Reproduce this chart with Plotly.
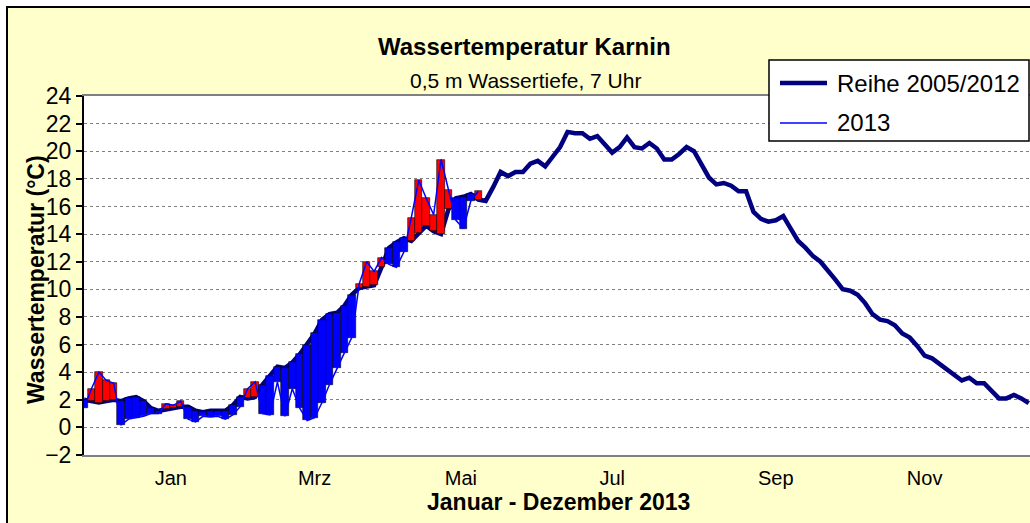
import plotly.graph_objects as go

# Tage ab linkem Diagrammrand, 3-Tage-Raster
tage = list(range(0, 382, 3))

# Mittelwert Reihe 2005/2012 (°C)
reihe_2005_2012 = [
    2.0, 1.9, 1.8, 1.9, 2.0, 1.9, 2.1, 2.2, 1.9, 1.4,
    1.2, 1.3, 1.4, 1.5, 1.5, 1.2, 1.1, 1.2, 1.2, 1.2,
    1.6, 2.2, 2.1, 2.2, 3.1, 3.7, 4.4, 4.3, 4.7, 5.3,
    6.0, 6.8, 7.8, 8.2, 8.3, 8.8, 9.6, 10.1, 10.2, 10.3,
    11.6, 13.0, 13.4, 13.7, 13.5, 14.1, 14.6, 14.2, 14.0, 15.8,
    16.6, 16.7, 16.9, 16.5, 16.4, 17.4, 18.5, 18.2, 18.5, 18.5,
    19.1, 19.3, 18.9, 19.6, 20.3, 21.4, 21.3, 21.3, 20.9, 21.1,
    20.5, 19.9, 20.3, 21.0, 20.3, 20.2, 20.6, 20.2, 19.4, 19.4,
    19.8, 20.3, 20.0, 19.1, 18.1, 17.6, 17.7, 17.5, 17.1, 17.1,
    15.6, 15.1, 14.9, 15.0, 15.3, 14.4, 13.5, 13.0, 12.4, 12.0,
    11.4, 10.7, 10.0, 9.9, 9.6, 9.0, 8.2, 7.8, 7.7, 7.4,
    6.8, 6.5, 5.9, 5.2, 5.0, 4.6, 4.2, 3.75, 3.4, 3.6,
    3.2, 3.2, 2.7, 2.1, 2.1, 2.35, 2.1, 1.75,
]

# Messwerte 2013 (°C)
werte_2013 = [
    1.4, 2.8, 4.0, 3.4, 3.2, 0.2, 0.6, 0.7, 0.8, 1.0,
    1.0, 1.7, 1.6, 1.9, 0.6, 0.4, 0.8, 0.75, 0.8, 0.6,
    0.9, 1.5, 2.8, 3.3, 1.0, 0.9, 3.3, 0.8, 2.8, 1.4,
    0.5, 0.7, 1.8, 3.1, 4.3, 5.4, 6.5, 10.4, 12.0, 11.3,
    12.3, 11.8, 11.6, 12.7, 15.2, 17.9, 16.6, 15.4, 19.4, 17.2,
    15.0, 14.4, 16.4, 17.1,
]

monate = ["Jan", "Mrz", "Mai", "Jul", "Sep", "Nov"]
monat_pos = [35, 93, 152, 213, 279, 339]

W, H = 1030, 523
L, R, T, B = 84, 0, 96, 68
PW, PH = W - L - R, H - T - B
FONT = "Arial, Liberation Sans, sans-serif"
X_RANGE = [0, 381.5]
Y_RANGE = [-2, 24]


def px(x):
    return (x - L) / PW


def py(y):
    return (H - B - y) / PH


fig = go.Figure()

# Mittelwertlinie (unter den Balken)
fig.add_trace(go.Scatter(x=tage, y=reihe_2005_2012, mode="lines",
                         line=dict(color="#000080", width=4.5), name="Reihe 2005/2012"))

# Differenzbalken (rot = waermer, blau = kaelter), auf Overlay-Achsen damit sie oben liegen
tage_2013 = tage[:len(werte_2013)]
ref = reihe_2005_2012[:len(werte_2013)]
basis = [min(a, b) for a, b in zip(ref, werte_2013)]
hoehe = [abs(b - a) for a, b in zip(ref, werte_2013)]
farben = ["#FF0000" if b > a else "#0000FF" for a, b in zip(ref, werte_2013)]
fig.add_trace(go.Bar(x=tage_2013, y=hoehe, base=basis, width=3,
                     marker=dict(color=farben, line=dict(color="black", width=0.6)),
                     showlegend=False, hoverinfo="skip", xaxis="x2", yaxis="y2"))

fig.add_trace(go.Scatter(x=tage_2013, y=werte_2013, mode="lines",
                         line=dict(color="#0000FF", width=1.5), name="2013",
                         xaxis="x2", yaxis="y2"))

shapes = [
    # weisser Rand oben/links und schwarzer Rahmen
    dict(type="rect", xref="paper", yref="paper", x0=px(0), x1=px(W), y0=py(6), y1=py(0),
         fillcolor="white", line=dict(width=0)),
    dict(type="rect", xref="paper", yref="paper", x0=px(0), x1=px(6), y0=py(H), y1=py(0),
         fillcolor="white", line=dict(width=0)),
    dict(type="line", xref="paper", yref="paper", x0=px(6), x1=px(W), y0=py(7), y1=py(7),
         line=dict(color="black", width=2)),
    dict(type="line", xref="paper", yref="paper", x0=px(7), x1=px(7), y0=py(H), y1=py(6),
         line=dict(color="black", width=2)),
    # Legende
    dict(type="rect", xref="paper", yref="paper", x0=px(769), x1=px(1029), y0=py(141), y1=py(60),
         fillcolor="white", line=dict(color="black", width=1.5)),
    dict(type="line", xref="paper", yref="paper", x0=px(780), x1=px(827), y0=py(83), y1=py(83),
         line=dict(color="#000080", width=4.5)),
    dict(type="line", xref="paper", yref="paper", x0=px(780), x1=px(827), y0=py(123), y1=py(123),
         line=dict(color="#0000FF", width=1.5)),
]

annotations = [
    dict(text="<b>Wassertemperatur Karnin</b>", x=px(524), y=py(46), font=dict(size=24)),
    dict(text="0,5 m Wassertiefe, 7 Uhr", x=px(525), y=py(80), font=dict(size=21)),
    dict(text="<b>Januar - Dezember 2013</b>", x=px(558), y=py(502), font=dict(size=23)),
    dict(text="<b>Wassertemperatur (°C)</b>", x=px(36), y=py(280), textangle=-90,
         font=dict(size=23)),
    dict(text="Reihe 2005/2012", x=px(835), y=py(83), xanchor="left", font=dict(size=24)),
    dict(text="2013", x=px(835), y=py(123), xanchor="left", font=dict(size=24)),
]
for a in annotations:
    a.update(xref="paper", yref="paper", showarrow=False)
    a.setdefault("xanchor", "center")
    a["yanchor"] = "middle"

fig.update_layout(
    width=W, height=H,
    margin=dict(l=L, r=R, t=T, b=B),
    paper_bgcolor="#FFFFCC",
    plot_bgcolor="white",
    showlegend=False,
    bargap=0,
    font=dict(family=FONT, color="black"),
    shapes=shapes,
    annotations=annotations,
    xaxis=dict(
        range=X_RANGE, tickvals=monat_pos, ticktext=monate,
        showgrid=False, zeroline=False,
        showline=True, linecolor="#808080", linewidth=2, mirror=True,
        ticks="", ticklabelstandoff=4, tickfont=dict(size=20),
    ),
    yaxis=dict(
        range=Y_RANGE, dtick=2, tick0=0,
        showgrid=True, gridcolor="#808080", griddash="dot", gridwidth=1,
        zeroline=False, showline=True, linecolor="black", linewidth=2,
        ticks="outside", ticklen=6, tickwidth=1.5, tickcolor="black",
        tickfont=dict(size=23),
    ),
    xaxis2=dict(overlaying="x", range=X_RANGE, visible=False),
    yaxis2=dict(overlaying="y", range=Y_RANGE, visible=False),
)

fig.write_html("out.html", config={"displayModeBar": False},
               post_script="document.body.style.margin='0px';")
